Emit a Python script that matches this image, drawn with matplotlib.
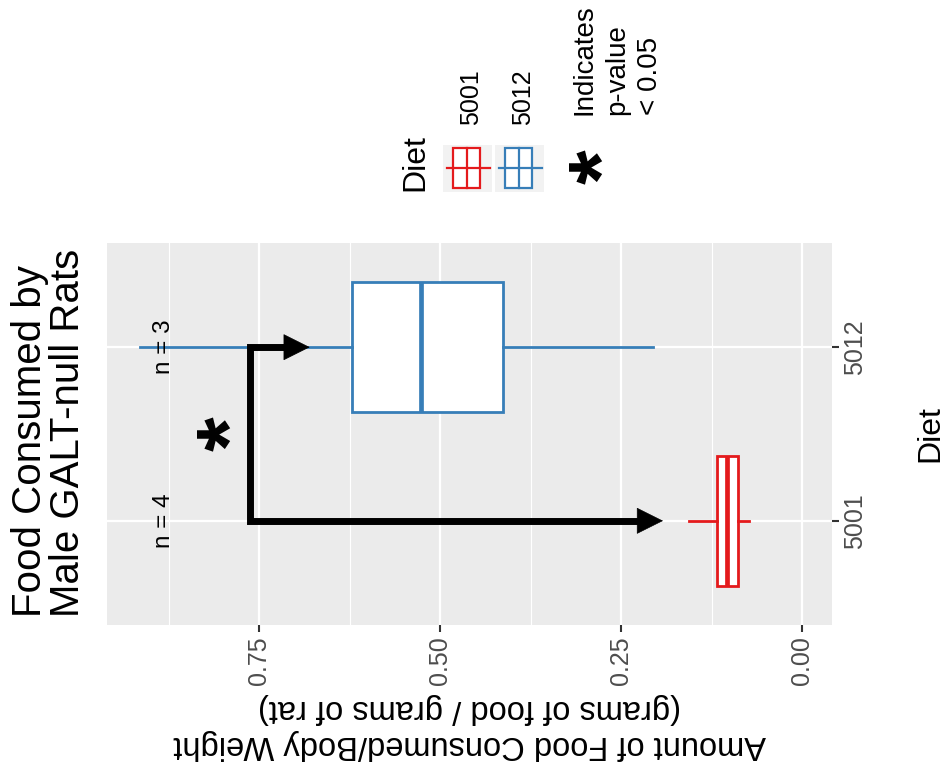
import matplotlib
matplotlib.use('Agg')
import matplotlib.pyplot as plt
from matplotlib.patches import Rectangle
from matplotlib.lines import Line2D

plt.rcParams['font.family'] = ['Liberation Sans', 'DejaVu Sans']

# ---------------- data ----------------
diets = ['5001', '5012']
diet_colors = ['#E41A1C', '#377EB8']
n_labels = ['n = 4', 'n = 3']
whisker_low = [0.073, 0.206]
q1 = [0.088, 0.413]
median = [0.104, 0.526]
q3 = [0.117, 0.622]
whisker_high = [0.156, 0.914]
value_ticks = [0.00, 0.25, 0.50, 0.75]
value_tick_labels = ['0.00', '0.25', '0.50', '0.75']
minor_ticks = [0.125, 0.375, 0.625, 0.875]
n_label_value = 0.873
bracket_value = 0.762
arrow_tips = [0.192, 0.680]   # 5001, 5012
star_value = 0.783
title_lines = ['Food Consumed by', 'Male GALT-null Rats']
value_label = 'Amount of Food Consumed/Body Weight\n(grams of food / grams of rat)'
legend_note = ['Indicates', 'p-value', '< 0.05']

# ---------------- figure ----------------
W, H = 945, 781
fig = plt.figure(figsize=(W / 100, H / 100), dpi=100)


def fx(x):
    return x / W


def fy(y):
    return 1 - y / H


ax = fig.add_axes([fx(107), fy(625), fx(832) - fx(107), fy(243) - fy(625)])
ax.set_facecolor('#EBEBEB')
for s in ax.spines.values():
    s.set_visible(False)

positions = [1, 2]
for i in range(len(diets)):
    st = dict(med=median[i], q1=q1[i], q3=q3[i], whislo=whisker_low[i],
              whishi=whisker_high[i], fliers=[], label=diets[i])
    c = diet_colors[i]
    ax.bxp([st], positions=[positions[i]], widths=0.75, orientation='horizontal',
           showcaps=False, showfliers=False, patch_artist=True, zorder=3,
           boxprops=dict(facecolor='white', edgecolor=c, linewidth=2.0),
           medianprops=dict(color=c, linewidth=3.4, solid_capstyle='butt'),
           whiskerprops=dict(color=c, linewidth=2.0))

ax.set_xlim(0.96, -0.0414)
ax.set_ylim(0.4, 2.6)

ax.set_xticks(value_ticks)
ax.set_xticklabels(value_tick_labels, rotation=90)
ax.set_xticks(minor_ticks, minor=True)
ax.tick_params(axis='x', which='minor', length=0)
ax.yaxis.tick_right()
ax.set_yticks(positions)
ax.set_yticklabels(diets, rotation=90, va='center')
ax.tick_params(axis='both', which='major', color='#333333', labelcolor='#4D4D4D',
               labelsize=18, length=5, width=1.5, pad=3)

ax.set_axisbelow(True)
ax.grid(which='major', color='white', linewidth=1.6)
ax.grid(which='minor', axis='x', color='white', linewidth=0.8)

ax.set_xlabel(value_label, rotation=180, fontsize=23.5, labelpad=6)
ax.yaxis.set_label_position('right')
ax.set_ylabel('Diet', fontsize=23, rotation=90, labelpad=35)

# n labels
for i in range(len(diets)):
    ax.text(n_label_value, positions[i], n_labels[i], rotation=90, rotation_mode='anchor',
            ha='center', va='baseline', fontsize=17.5, color='black', zorder=5)

# significance bracket with arrows
back = 0.02
ax.plot([arrow_tips[1] + back, bracket_value, bracket_value, arrow_tips[0] + back],
        [positions[1], positions[1], positions[0], positions[0]],
        color='black', linewidth=5, solid_joinstyle='miter', solid_capstyle='butt', zorder=4)
for i in range(len(diets)):
    ax.annotate('', xy=(arrow_tips[i], positions[i]), xytext=(arrow_tips[i] + 0.03, positions[i]),
                arrowprops=dict(arrowstyle='-|>,head_length=0.45,head_width=0.225',
                                mutation_scale=40, lw=0.5, color='black',
                                shrinkA=0, shrinkB=0), zorder=4)
ax.text(star_value, 1.5, '*', rotation=90, rotation_mode='anchor', ha='center', va='center',
        fontsize=64, fontweight='bold', color='black', zorder=5)

# title
for line, xb in zip(title_lines, [41, 79]):
    fig.text(fx(xb), fy(617), line, rotation=90, rotation_mode='anchor',
             ha='left', va='baseline', fontsize=29, color='black')

# legend
fig.text(fx(423), fy(163), 'Diet', rotation=90, rotation_mode='anchor',
         ha='center', va='baseline', fontsize=23, color='black')
for i in range(len(diets)):
    off = 52 * i
    c = diet_colors[i]
    fig.add_artist(Rectangle((fx(443 + off), fy(192)), fx(49), fy(145) - fy(192),
                             transform=fig.transFigure, facecolor='#F2F2F2', edgecolor='none'))
    fig.add_artist(Line2D([fx(447 + off), fx(490 + off)], [fy(168), fy(168)],
                          transform=fig.transFigure, color=c, lw=1.6))
    fig.add_artist(Rectangle((fx(453 + off), fy(188)), fx(27), fy(148) - fy(188),
                             transform=fig.transFigure, facecolor='white', edgecolor=c, lw=1.6))
    fig.add_artist(Line2D([fx(467 + off), fx(467 + off)], [fy(148), fy(188)],
                          transform=fig.transFigure, color=c, lw=1.6))
    fig.text(fx(478 + off), fy(97), diets[i], rotation=90, rotation_mode='anchor',
             ha='center', va='baseline', fontsize=18, color='black')

fig.text(fx(608), fy(167), '*', rotation=90, rotation_mode='anchor', ha='center', va='center',
         fontsize=64, fontweight='bold', color='black')
for line, xb in zip(legend_note, [592, 624, 657]):
    fig.text(fx(xb), fy(115), line, rotation=90, rotation_mode='anchor',
             ha='left', va='baseline', fontsize=20, color='black')

fig.savefig('out.png', dpi=100)
